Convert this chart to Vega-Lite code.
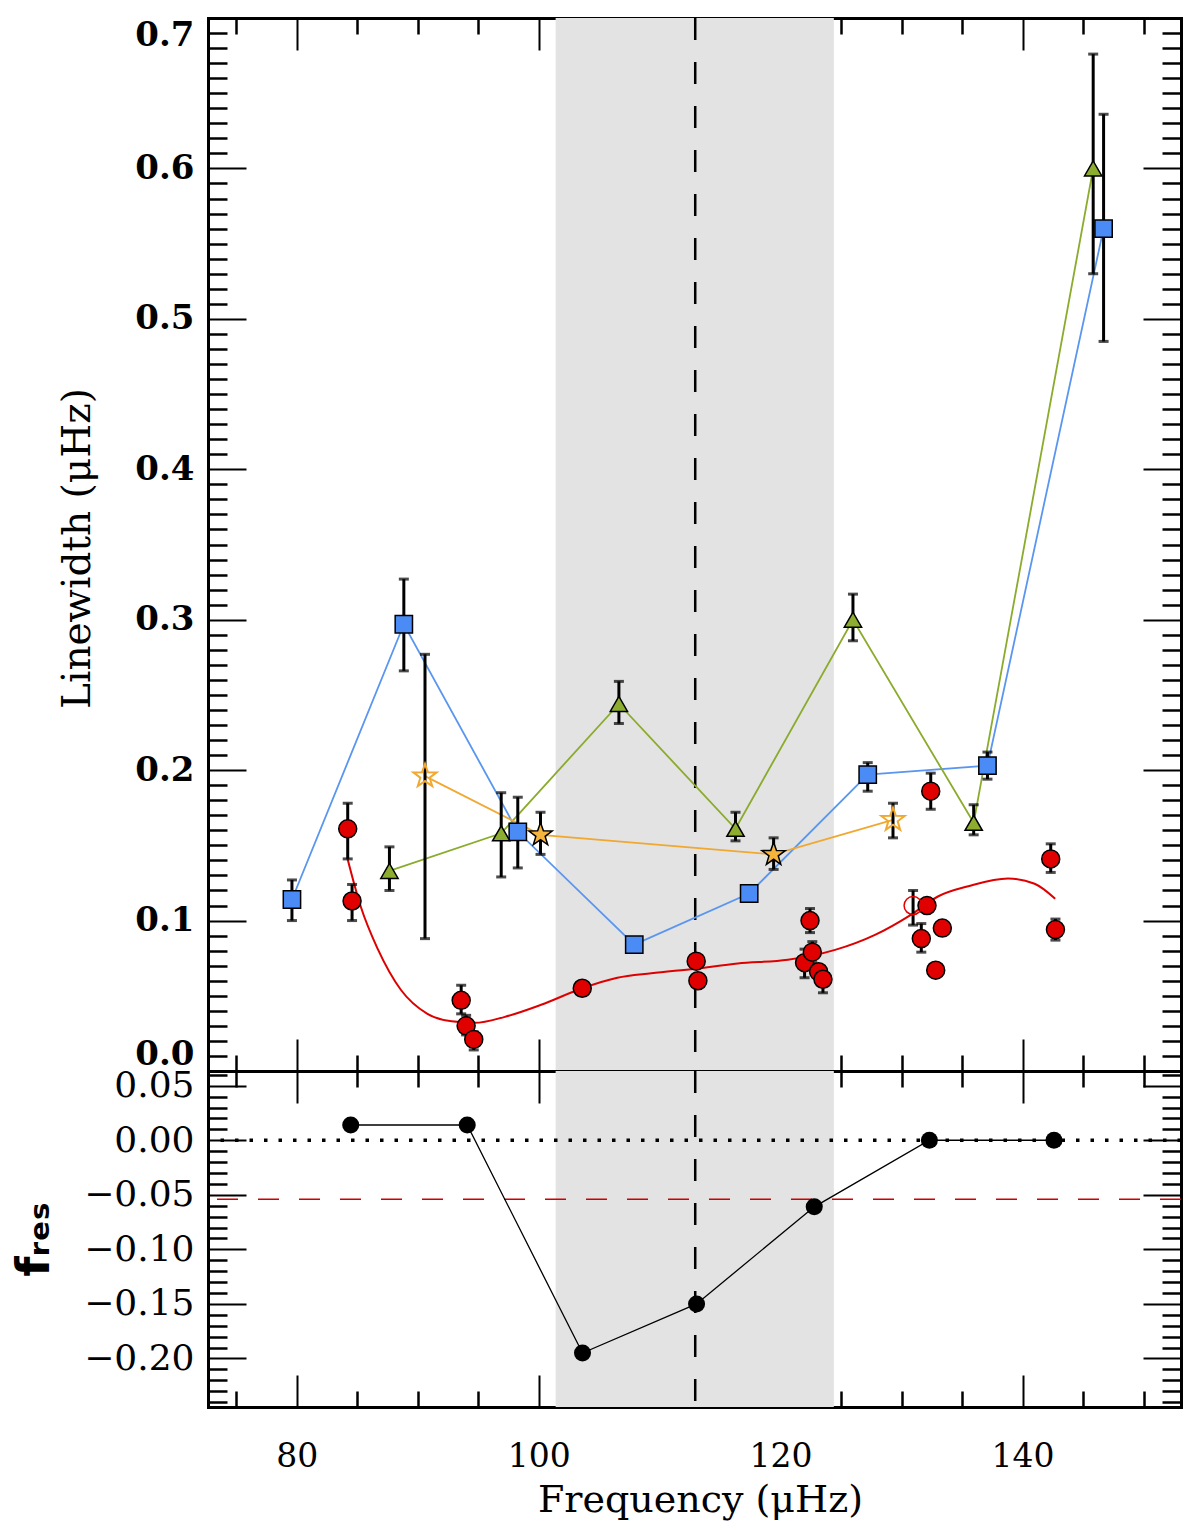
{
  "$schema": "https://vega.github.io/schema/vega-lite/v6.json",
  "description": "Linewidth vs frequency with f_res panel",
  "padding": {"left": 11, "top": 16, "right": 10, "bottom": 2},
  "autosize": {"type": "pad"},
  "background": "white",
  "spacing": 0,
  "bounds": "flush",
  "config": {
    "view": {"stroke": null},
    "axis": {"grid": false, "zindex": 2, "labelColor": "black", "titleColor": "black", "labelOverlap": false}
  },
  "datasets": {
    "band": [{"lo": 101.4, "hi": 124.4}],
    "vline": [{"f": 112.94}],
    "hlines": [{"kind": "zero", "v": 0}, {"kind": "cut", "v": -0.054}],
    "top": [
      {"s": "blue", "g": "blue", "f": 79.6, "lw": 0.114, "lo": 0.1, "hi": 0.127},
      {"s": "blue", "g": "blue", "f": 88.85, "lw": 0.297, "lo": 0.266, "hi": 0.327},
      {"s": "blue", "g": "blue", "f": 98.27, "lw": 0.159, "lo": 0.135, "hi": 0.182},
      {"s": "blue", "g": "blue", "f": 107.9, "lw": 0.084},
      {"s": "blue", "g": "blue", "f": 117.4, "lw": 0.118},
      {"s": "blue", "g": "blue", "f": 127.2, "lw": 0.197, "lo": 0.186, "hi": 0.205},
      {"s": "blue", "g": "blue", "f": 137.1, "lw": 0.203, "lo": 0.194, "hi": 0.212},
      {"s": "blue", "g": "blue", "f": 146.7, "lw": 0.56, "lo": 0.485, "hi": 0.636},
      {"s": "green", "g": "green", "f": 87.66, "lw": 0.133, "lo": 0.12, "hi": 0.149},
      {"s": "green", "g": "green", "f": 96.9, "lw": 0.158, "lo": 0.129, "hi": 0.185},
      {"s": "green", "g": "green", "f": 106.63, "lw": 0.244, "lo": 0.231, "hi": 0.259},
      {"s": "green", "g": "green", "f": 116.27, "lw": 0.161, "lo": 0.153, "hi": 0.172},
      {"s": "green", "g": "green", "f": 125.98, "lw": 0.3, "lo": 0.286, "hi": 0.317},
      {"s": "green", "g": "green", "f": 135.96, "lw": 0.165, "lo": 0.157, "hi": 0.177},
      {"s": "green", "g": "green", "f": 145.84, "lw": 0.6, "lo": 0.53, "hi": 0.676},
      {"s": "starO", "g": "orange", "f": 90.6, "lw": 0.196, "lo": 0.088, "hi": 0.277},
      {"s": "starF", "g": "orange", "f": 100.15, "lw": 0.157, "lo": 0.144, "hi": 0.172},
      {"s": "starF", "g": "orange", "f": 119.42, "lw": 0.144, "lo": 0.134, "hi": 0.155},
      {"s": "starO", "g": "orange", "f": 129.29, "lw": 0.167, "lo": 0.155, "hi": 0.178},
      {"s": "red", "f": 84.21, "lw": 0.161, "lo": 0.141, "hi": 0.178},
      {"s": "red", "f": 84.57, "lw": 0.113, "lo": 0.1, "hi": 0.124},
      {"s": "red", "f": 93.59, "lw": 0.047, "lo": 0.038, "hi": 0.057},
      {"s": "red", "f": 94.0, "lw": 0.03, "lo": 0.024, "hi": 0.037},
      {"s": "red", "f": 94.63, "lw": 0.021, "lo": 0.014, "hi": 0.026},
      {"s": "red", "f": 103.6, "lw": 0.055},
      {"s": "red", "f": 113.02, "lw": 0.073},
      {"s": "red", "f": 113.16, "lw": 0.06},
      {"s": "red", "f": 121.98, "lw": 0.072, "lo": 0.062, "hi": 0.081},
      {"s": "red", "f": 122.43, "lw": 0.1, "lo": 0.092, "hi": 0.108},
      {"s": "red", "f": 122.62, "lw": 0.079, "lo": 0.072, "hi": 0.086},
      {"s": "red", "f": 123.14, "lw": 0.066},
      {"s": "red", "f": 123.5, "lw": 0.061, "lo": 0.052, "hi": 0.066},
      {"s": "red", "f": 131.63, "lw": 0.088, "lo": 0.079, "hi": 0.098},
      {"s": "red", "f": 132.1, "lw": 0.11},
      {"s": "red", "f": 132.41, "lw": 0.186, "lo": 0.174, "hi": 0.198},
      {"s": "red", "f": 132.82, "lw": 0.067},
      {"s": "red", "f": 133.37, "lw": 0.095},
      {"s": "red", "f": 142.33, "lw": 0.141, "lo": 0.132, "hi": 0.151},
      {"s": "red", "f": 142.72, "lw": 0.094, "lo": 0.087, "hi": 0.101},
      {"s": "redO", "f": 130.95, "lw": 0.11, "lo": 0.097, "hi": 0.12}
    ],
    "curve": [
      {"f": 84.2, "lw": 0.141},
      {"f": 85.3, "lw": 0.109},
      {"f": 86.7, "lw": 0.081},
      {"f": 88.6, "lw": 0.054},
      {"f": 90.8, "lw": 0.038},
      {"f": 92.8, "lw": 0.033},
      {"f": 94.7, "lw": 0.032},
      {"f": 97.2, "lw": 0.036},
      {"f": 100.2, "lw": 0.044},
      {"f": 103.6, "lw": 0.055},
      {"f": 106.5, "lw": 0.062},
      {"f": 109.3, "lw": 0.065},
      {"f": 112.9, "lw": 0.068},
      {"f": 116.45, "lw": 0.0715},
      {"f": 120.6, "lw": 0.074},
      {"f": 124.5, "lw": 0.0805},
      {"f": 127.8, "lw": 0.0905},
      {"f": 130.8, "lw": 0.104},
      {"f": 133.0, "lw": 0.116},
      {"f": 135.6, "lw": 0.123},
      {"f": 138.8, "lw": 0.128},
      {"f": 141.0, "lw": 0.1245},
      {"f": 142.7, "lw": 0.1145}
    ],
    "fres": [
      {"f": 84.46, "v": 0.014},
      {"f": 94.09, "v": 0.014},
      {"f": 103.62, "v": -0.195},
      {"f": 113.05, "v": -0.15},
      {"f": 122.78, "v": -0.061},
      {"f": 132.3, "v": 0.0},
      {"f": 142.6, "v": 0.0}
    ]
  },
  "vconcat": [
    {
      "width": 973,
      "height": 1053,
      "resolve": {"axis": {"x": "independent", "y": "independent"}},
      "layer": [
        {
          "data": {"name": "band"},
          "mark": {"type": "rect", "color": "#e3e3e3"},
          "encoding": {
            "x": {"field": "lo", "type": "quantitative", "scale": {"domain": [72.66, 153.1], "nice": false, "zero": false}, "axis": null},
            "x2": {"field": "hi"}
          }
        },
        {
          "data": {"name": "vline"},
          "mark": {"type": "rule", "color": "black", "strokeWidth": 2.5, "strokeDash": [22, 22]},
          "encoding": {
            "x": {"field": "f", "type": "quantitative", "scale": {"domain": [72.66, 153.1], "nice": false, "zero": false}, "axis": null}
          }
        },
        {
          "data": {"name": "top"},
          "mark": {"type": "point", "opacity": 0},
          "encoding": {
            "x": {"field": "f", "type": "quantitative", "scale": {"domain": [72.66, 153.1], "nice": false, "zero": false}, "axis": null},
            "y": {"field": "lw", "type": "quantitative", "scale": {"domain": [0, 0.7], "nice": false, "zero": false},
              "axis": {"orient": "left", "values": [0, 0.1, 0.2, 0.3, 0.4, 0.5, 0.6, 0.7], "format": ".1f", "ticks": false, "domain": false,
                "labelFont": "DejaVu Serif", "labelFontWeight": "bold", "labelFontSize": 34, "labelPadding": 14, "labelFlush": true,
                "title": "Linewidth (μHz)", "titleFont": "DejaVu Serif", "titleFontSize": 39, "titleFontWeight": "normal",
                "titleAngle": -90, "titleX": -119, "titleY": 530, "titleBaseline": "alphabetic", "titleAlign": "center"}}
          }
        },
        {
          "data": {"name": "top"},
          "mark": {"type": "point", "opacity": 0},
          "encoding": {
            "x": {"field": "f", "type": "quantitative", "scale": {"domain": [72.66, 153.1], "nice": false, "zero": false},
              "axis": {"orient": "bottom", "values": [80, 100, 120, 140], "labels": false, "title": null, "tickSize": -32, "tickWidth": 2, "tickColor": "black",
                "domain": true, "domainWidth": 3, "domainColor": "black", "domainCap": "square"}},
            "y": {"field": "lw", "type": "quantitative", "scale": {"domain": [0, 0.7], "nice": false, "zero": false},
              "axis": {"orient": "left", "values": [0, 0.1, 0.2, 0.3, 0.4, 0.5, 0.6, 0.7], "labels": false, "title": null, "tickSize": -38, "tickWidth": 2, "tickColor": "black",
                "domain": true, "domainWidth": 3, "domainColor": "black", "domainCap": "square"}}
          }
        },
        {
          "data": {"name": "top"},
          "mark": {"type": "point", "opacity": 0},
          "encoding": {
            "x": {"field": "f", "type": "quantitative", "scale": {"domain": [72.66, 153.1], "nice": false, "zero": false},
              "axis": {"orient": "bottom", "values": [75, 85, 90, 95, 105, 110, 115, 125, 130, 135, 145, 150], "labels": false, "title": null, "tickSize": -16, "tickWidth": 2.5, "tickColor": "black", "domain": false}},
            "y": {"field": "lw", "type": "quantitative", "scale": {"domain": [0, 0.7], "nice": false, "zero": false},
              "axis": {"orient": "left", "values": [0.01, 0.02, 0.03, 0.04, 0.05, 0.06, 0.07, 0.08, 0.09, 0.11, 0.12, 0.13, 0.14, 0.15, 0.16, 0.17, 0.18, 0.19, 0.21, 0.22, 0.23, 0.24, 0.25, 0.26, 0.27, 0.28, 0.29, 0.31, 0.32, 0.33, 0.34, 0.35, 0.36, 0.37, 0.38, 0.39, 0.41, 0.42, 0.43, 0.44, 0.45, 0.46, 0.47, 0.48, 0.49, 0.51, 0.52, 0.53, 0.54, 0.55, 0.56, 0.57, 0.58, 0.59, 0.61, 0.62, 0.63, 0.64, 0.65, 0.66, 0.67, 0.68, 0.69],
                "labels": false, "title": null, "tickSize": -19, "tickWidth": 2.5, "tickColor": "black", "domain": false}}
          }
        },
        {
          "data": {"name": "top"},
          "mark": {"type": "point", "opacity": 0},
          "encoding": {
            "x": {"field": "f", "type": "quantitative", "scale": {"domain": [72.66, 153.1], "nice": false, "zero": false},
              "axis": {"orient": "top", "values": [80, 100, 120, 140], "labels": false, "title": null, "tickSize": -32, "tickWidth": 2, "tickColor": "black",
                "domain": true, "domainWidth": 3, "domainColor": "black", "domainCap": "square"}},
            "y": {"field": "lw", "type": "quantitative", "scale": {"domain": [0, 0.7], "nice": false, "zero": false},
              "axis": {"orient": "right", "values": [0, 0.1, 0.2, 0.3, 0.4, 0.5, 0.6, 0.7], "labels": false, "title": null, "tickSize": -38, "tickWidth": 2, "tickColor": "black",
                "domain": true, "domainWidth": 3, "domainColor": "black", "domainCap": "square"}}
          }
        },
        {
          "data": {"name": "top"},
          "mark": {"type": "point", "opacity": 0},
          "encoding": {
            "x": {"field": "f", "type": "quantitative", "scale": {"domain": [72.66, 153.1], "nice": false, "zero": false},
              "axis": {"orient": "top", "values": [75, 85, 90, 95, 105, 110, 115, 125, 130, 135, 145, 150], "labels": false, "title": null, "tickSize": -16, "tickWidth": 2.5, "tickColor": "black", "domain": false}},
            "y": {"field": "lw", "type": "quantitative", "scale": {"domain": [0, 0.7], "nice": false, "zero": false},
              "axis": {"orient": "right", "values": [0.01, 0.02, 0.03, 0.04, 0.05, 0.06, 0.07, 0.08, 0.09, 0.11, 0.12, 0.13, 0.14, 0.15, 0.16, 0.17, 0.18, 0.19, 0.21, 0.22, 0.23, 0.24, 0.25, 0.26, 0.27, 0.28, 0.29, 0.31, 0.32, 0.33, 0.34, 0.35, 0.36, 0.37, 0.38, 0.39, 0.41, 0.42, 0.43, 0.44, 0.45, 0.46, 0.47, 0.48, 0.49, 0.51, 0.52, 0.53, 0.54, 0.55, 0.56, 0.57, 0.58, 0.59, 0.61, 0.62, 0.63, 0.64, 0.65, 0.66, 0.67, 0.68, 0.69],
                "labels": false, "title": null, "tickSize": -19, "tickWidth": 2.5, "tickColor": "black", "domain": false}}
          }
        },
        {
          "data": {"name": "curve"},
          "mark": {"type": "line", "color": "#dd0000", "strokeWidth": 2, "interpolate": "monotone"},
          "encoding": {
            "x": {"field": "f", "type": "quantitative", "scale": {"domain": [72.66, 153.1], "nice": false, "zero": false}, "axis": null},
            "y": {"field": "lw", "type": "quantitative", "scale": {"domain": [0, 0.7], "nice": false, "zero": false}, "axis": null}
          }
        },
        {
          "data": {"name": "top"},
          "transform": [{"filter": "isValid(datum.g)"}],
          "mark": {"type": "line", "strokeWidth": 1.8},
          "encoding": {
            "x": {"field": "f", "type": "quantitative", "scale": {"domain": [72.66, 153.1], "nice": false, "zero": false}, "axis": null},
            "y": {"field": "lw", "type": "quantitative", "scale": {"domain": [0, 0.7], "nice": false, "zero": false}, "axis": null},
            "color": {"field": "g", "type": "nominal", "scale": {"domain": ["blue", "green", "orange"], "range": ["#5a96f0", "#8aab2c", "#f0a830"]}, "legend": null}
          }
        },
        {
          "data": {"name": "top"},
          "transform": [{"filter": "isValid(datum.lo)"}],
          "mark": {"type": "rule", "color": "black", "strokeWidth": 3},
          "encoding": {
            "x": {"field": "f", "type": "quantitative", "scale": {"domain": [72.66, 153.1], "nice": false, "zero": false}, "axis": null},
            "y": {"field": "lo", "type": "quantitative", "scale": {"domain": [0, 0.7], "nice": false, "zero": false}, "axis": null},
            "y2": {"field": "hi"}
          }
        },
        {
          "data": {"name": "top"},
          "transform": [{"filter": "isValid(datum.lo)"}],
          "mark": {"type": "tick", "color": "black", "orient": "horizontal", "size": 10, "thickness": 3},
          "encoding": {
            "x": {"field": "f", "type": "quantitative", "scale": {"domain": [72.66, 153.1], "nice": false, "zero": false}, "axis": null},
            "y": {"field": "lo", "type": "quantitative", "scale": {"domain": [0, 0.7], "nice": false, "zero": false}, "axis": null}
          }
        },
        {
          "data": {"name": "top"},
          "transform": [{"filter": "isValid(datum.hi)"}],
          "mark": {"type": "tick", "color": "black", "orient": "horizontal", "size": 10, "thickness": 3},
          "encoding": {
            "x": {"field": "f", "type": "quantitative", "scale": {"domain": [72.66, 153.1], "nice": false, "zero": false}, "axis": null},
            "y": {"field": "hi", "type": "quantitative", "scale": {"domain": [0, 0.7], "nice": false, "zero": false}, "axis": null}
          }
        },
        {
          "data": {"name": "top"},
          "transform": [{"filter": "datum.s === 'blue'"}],
          "mark": {"type": "point", "shape": "square", "size": 300, "filled": true, "fill": "#4b8bf5", "stroke": "black", "strokeWidth": 1.5, "opacity": 1},
          "encoding": {
            "x": {"field": "f", "type": "quantitative", "scale": {"domain": [72.66, 153.1], "nice": false, "zero": false}, "axis": null},
            "y": {"field": "lw", "type": "quantitative", "scale": {"domain": [0, 0.7], "nice": false, "zero": false}, "axis": null}
          }
        },
        {
          "data": {"name": "top"},
          "transform": [{"filter": "datum.s === 'green'"}],
          "mark": {"type": "point", "shape": "triangle-up", "size": 300, "filled": true, "fill": "#8cad2f", "stroke": "black", "strokeWidth": 1.5, "opacity": 1},
          "encoding": {
            "x": {"field": "f", "type": "quantitative", "scale": {"domain": [72.66, 153.1], "nice": false, "zero": false}, "axis": null},
            "y": {"field": "lw", "type": "quantitative", "scale": {"domain": [0, 0.7], "nice": false, "zero": false}, "axis": null}
          }
        },
        {
          "data": {"name": "top"},
          "transform": [{"filter": "datum.s === 'starF'"}],
          "mark": {"type": "point", "shape": "M0,-1L0.235,-0.324L0.951,-0.309L0.38,0.124L0.588,0.809L0,0.4L-0.588,0.809L-0.38,0.124L-0.951,-0.309L-0.235,-0.324Z", "size": 600, "filled": true, "fill": "#f5b53d", "stroke": "black", "strokeWidth": 1.5, "opacity": 1},
          "encoding": {
            "x": {"field": "f", "type": "quantitative", "scale": {"domain": [72.66, 153.1], "nice": false, "zero": false}, "axis": null},
            "y": {"field": "lw", "type": "quantitative", "scale": {"domain": [0, 0.7], "nice": false, "zero": false}, "axis": null}
          }
        },
        {
          "data": {"name": "top"},
          "transform": [{"filter": "datum.s === 'starO'"}],
          "mark": {"type": "point", "shape": "M0,-1L0.235,-0.324L0.951,-0.309L0.38,0.124L0.588,0.809L0,0.4L-0.588,0.809L-0.38,0.124L-0.951,-0.309L-0.235,-0.324Z", "size": 600, "filled": false, "stroke": "#f0a830", "strokeWidth": 2, "opacity": 1},
          "encoding": {
            "x": {"field": "f", "type": "quantitative", "scale": {"domain": [72.66, 153.1], "nice": false, "zero": false}, "axis": null},
            "y": {"field": "lw", "type": "quantitative", "scale": {"domain": [0, 0.7], "nice": false, "zero": false}, "axis": null}
          }
        },
        {
          "data": {"name": "top"},
          "transform": [{"filter": "datum.s === 'red'"}],
          "mark": {"type": "point", "shape": "circle", "size": 324, "filled": true, "fill": "#e00000", "stroke": "black", "strokeWidth": 1.5, "opacity": 1},
          "encoding": {
            "x": {"field": "f", "type": "quantitative", "scale": {"domain": [72.66, 153.1], "nice": false, "zero": false}, "axis": null},
            "y": {"field": "lw", "type": "quantitative", "scale": {"domain": [0, 0.7], "nice": false, "zero": false}, "axis": null}
          }
        },
        {
          "data": {"name": "top"},
          "transform": [{"filter": "datum.s === 'redO'"}],
          "mark": {"type": "point", "shape": "circle", "size": 324, "filled": false, "stroke": "#e00000", "strokeWidth": 1.5, "opacity": 1},
          "encoding": {
            "x": {"field": "f", "type": "quantitative", "scale": {"domain": [72.66, 153.1], "nice": false, "zero": false}, "axis": null},
            "y": {"field": "lw", "type": "quantitative", "scale": {"domain": [0, 0.7], "nice": false, "zero": false}, "axis": null}
          }
        }
      ]
    },
    {
      "width": 973,
      "height": 336,
      "resolve": {"axis": {"x": "independent", "y": "independent"}},
      "layer": [
        {
          "data": {"name": "band"},
          "mark": {"type": "rect", "color": "#e3e3e3"},
          "encoding": {
            "x": {"field": "lo", "type": "quantitative", "scale": {"domain": [72.66, 153.1], "nice": false, "zero": false}, "axis": null},
            "x2": {"field": "hi"}
          }
        },
        {
          "data": {"name": "vline"},
          "mark": {"type": "rule", "color": "black", "strokeWidth": 2.5, "strokeDash": [22, 22]},
          "encoding": {
            "x": {"field": "f", "type": "quantitative", "scale": {"domain": [72.66, 153.1], "nice": false, "zero": false}, "axis": null}
          }
        },
        {
          "data": {"name": "hlines"},
          "transform": [{"filter": "datum.kind === 'zero'"}],
          "mark": {"type": "rule", "color": "black", "strokeWidth": 3.5, "strokeDash": [3.5, 11]},
          "encoding": {
            "y": {"field": "v", "type": "quantitative", "scale": {"domain": [-0.2445, 0.0635], "nice": false, "zero": false}, "axis": null}
          }
        },
        {
          "data": {"name": "hlines"},
          "transform": [{"filter": "datum.kind === 'cut'"}],
          "mark": {"type": "rule", "color": "#cc0000", "strokeWidth": 1.5, "strokeDash": [21, 20]},
          "encoding": {
            "y": {"field": "v", "type": "quantitative", "scale": {"domain": [-0.2445, 0.0635], "nice": false, "zero": false}, "axis": null}
          }
        },
        {
          "data": {"name": "fres"},
          "mark": {"type": "point", "opacity": 0},
          "encoding": {
            "x": {"field": "f", "type": "quantitative", "scale": {"domain": [72.66, 153.1], "nice": false, "zero": false},
              "axis": {"orient": "bottom", "values": [80, 100, 120, 140], "format": "d", "ticks": false, "domain": false, "labelFlush": false,
                "labelFont": "DejaVu Serif", "labelFontSize": 33, "labelPadding": 33,
                "title": "Frequency (μHz)", "titleFont": "DejaVu Serif", "titleFontSize": 38, "titleFontWeight": "normal",
                "titleX": 492, "titleY": 104, "titleBaseline": "alphabetic", "titleAlign": "center"}},
            "y": {"field": "v", "type": "quantitative", "scale": {"domain": [-0.2445, 0.0635], "nice": false, "zero": false},
              "axis": {"orient": "left", "values": [-0.2, -0.15, -0.1, -0.05, 0, 0.05], "format": ".2f", "ticks": false, "domain": false,
                "labelFont": "DejaVu Serif", "labelFontSize": 36, "labelPadding": 14,
                "title": "fᵣₑₛ", "titleFont": "DejaVu Sans", "titleFontSize": 46, "titleFontWeight": "bold",
                "titleAngle": -90, "titleX": -160, "titleY": 168, "titleBaseline": "alphabetic", "titleAlign": "center"}}
          }
        },
        {
          "data": {"name": "fres"},
          "mark": {"type": "point", "opacity": 0},
          "encoding": {
            "x": {"field": "f", "type": "quantitative", "scale": {"domain": [72.66, 153.1], "nice": false, "zero": false},
              "axis": {"orient": "bottom", "values": [80, 100, 120, 140], "labels": false, "title": null, "tickSize": -32, "tickWidth": 2, "tickColor": "black",
                "domain": true, "domainWidth": 3, "domainColor": "black", "domainCap": "square"}},
            "y": {"field": "v", "type": "quantitative", "scale": {"domain": [-0.2445, 0.0635], "nice": false, "zero": false},
              "axis": {"orient": "left", "values": [-0.2, -0.15, -0.1, -0.05, 0, 0.05], "labels": false, "title": null, "tickSize": -38, "tickWidth": 2, "tickColor": "black",
                "domain": true, "domainWidth": 3, "domainColor": "black", "domainCap": "square"}}
          }
        },
        {
          "data": {"name": "fres"},
          "mark": {"type": "point", "opacity": 0},
          "encoding": {
            "x": {"field": "f", "type": "quantitative", "scale": {"domain": [72.66, 153.1], "nice": false, "zero": false},
              "axis": {"orient": "bottom", "values": [75, 85, 90, 95, 105, 110, 115, 125, 130, 135, 145, 150], "labels": false, "title": null, "tickSize": -16, "tickWidth": 2.5, "tickColor": "black", "domain": false}},
            "y": {"field": "v", "type": "quantitative", "scale": {"domain": [-0.2445, 0.0635], "nice": false, "zero": false},
              "axis": {"orient": "left", "values": [-0.24, -0.23, -0.22, -0.21, -0.19, -0.18, -0.17, -0.16, -0.14, -0.13, -0.12, -0.11, -0.09, -0.08, -0.07, -0.06, -0.04, -0.03, -0.02, -0.01, 0.01, 0.02, 0.03, 0.04, 0.06],
                "labels": false, "title": null, "tickSize": -19, "tickWidth": 2.5, "tickColor": "black", "domain": false}}
          }
        },
        {
          "data": {"name": "fres"},
          "mark": {"type": "point", "opacity": 0},
          "encoding": {
            "x": {"field": "f", "type": "quantitative", "scale": {"domain": [72.66, 153.1], "nice": false, "zero": false},
              "axis": {"orient": "top", "values": [80, 100, 120, 140], "labels": false, "title": null, "tickSize": -32, "tickWidth": 2, "tickColor": "black",
                "domain": true, "domainWidth": 3, "domainColor": "black", "domainCap": "square"}},
            "y": {"field": "v", "type": "quantitative", "scale": {"domain": [-0.2445, 0.0635], "nice": false, "zero": false},
              "axis": {"orient": "right", "values": [-0.2, -0.15, -0.1, -0.05, 0, 0.05], "labels": false, "title": null, "tickSize": -38, "tickWidth": 2, "tickColor": "black",
                "domain": true, "domainWidth": 3, "domainColor": "black", "domainCap": "square"}}
          }
        },
        {
          "data": {"name": "fres"},
          "mark": {"type": "point", "opacity": 0},
          "encoding": {
            "x": {"field": "f", "type": "quantitative", "scale": {"domain": [72.66, 153.1], "nice": false, "zero": false},
              "axis": {"orient": "top", "values": [75, 85, 90, 95, 105, 110, 115, 125, 130, 135, 145, 150], "labels": false, "title": null, "tickSize": -16, "tickWidth": 2.5, "tickColor": "black", "domain": false}},
            "y": {"field": "v", "type": "quantitative", "scale": {"domain": [-0.2445, 0.0635], "nice": false, "zero": false},
              "axis": {"orient": "right", "values": [-0.24, -0.23, -0.22, -0.21, -0.19, -0.18, -0.17, -0.16, -0.14, -0.13, -0.12, -0.11, -0.09, -0.08, -0.07, -0.06, -0.04, -0.03, -0.02, -0.01, 0.01, 0.02, 0.03, 0.04, 0.06],
                "labels": false, "title": null, "tickSize": -19, "tickWidth": 2.5, "tickColor": "black", "domain": false}}
          }
        },
        {
          "data": {"name": "fres"},
          "mark": {"type": "line", "color": "black", "strokeWidth": 1.3},
          "encoding": {
            "x": {"field": "f", "type": "quantitative", "scale": {"domain": [72.66, 153.1], "nice": false, "zero": false}, "axis": null},
            "y": {"field": "v", "type": "quantitative", "scale": {"domain": [-0.2445, 0.0635], "nice": false, "zero": false}, "axis": null}
          }
        },
        {
          "data": {"name": "fres"},
          "mark": {"type": "point", "shape": "circle", "size": 290, "filled": true, "color": "black", "opacity": 1},
          "encoding": {
            "x": {"field": "f", "type": "quantitative", "scale": {"domain": [72.66, 153.1], "nice": false, "zero": false}, "axis": null},
            "y": {"field": "v", "type": "quantitative", "scale": {"domain": [-0.2445, 0.0635], "nice": false, "zero": false}, "axis": null}
          }
        }
      ]
    }
  ]
}
